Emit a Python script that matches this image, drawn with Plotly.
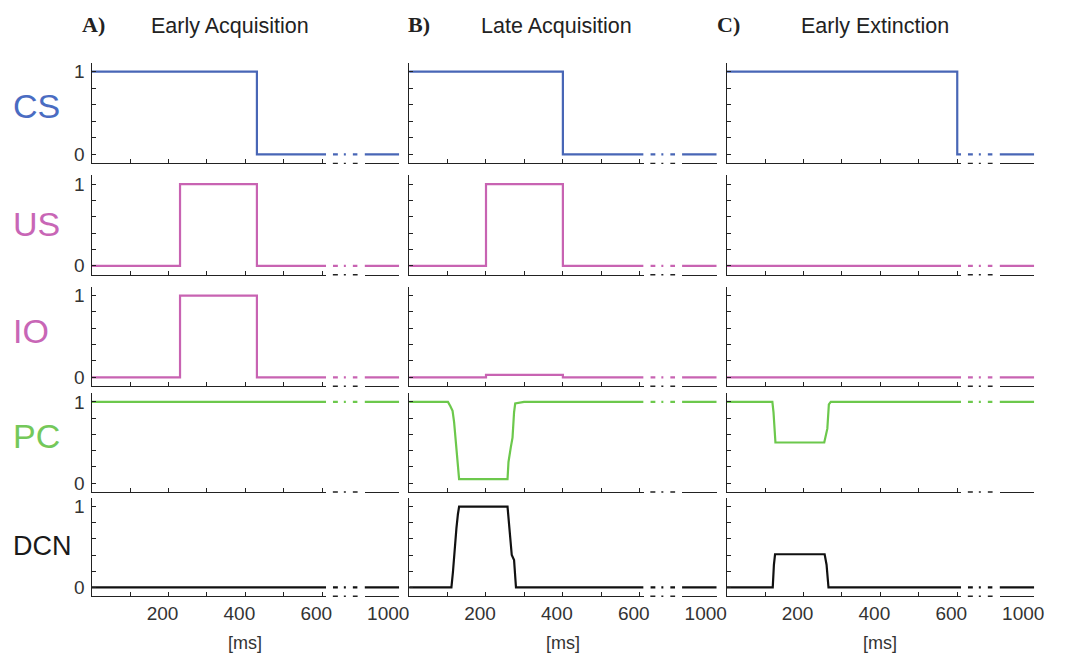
import numpy as np
import plotly.graph_objects as go

# ---------------- data: time (ms) and normalised activity ----------------
sessions = ["Early Acquisition", "Late Acquisition", "Early Extinction"]
session_tags = ["A)", "B)", "C)"]
signals = ["CS", "US", "IO", "PC", "DCN"]

cs_t = [[0, 430, 430, 1000], [0, 400, 400, 1000], [0, 600, 600, 1000]]
cs_v = [[1, 1, 0, 0], [1, 1, 0, 0], [1, 1, 0, 0]]

us_t = [[0, 230, 230, 430, 430, 1000], [0, 200, 200, 400, 400, 1000], [0, 1000]]
us_v = [[0, 0, 1, 1, 0, 0], [0, 0, 1, 1, 0, 0], [0, 0]]

io_t = [[0, 230, 230, 430, 430, 1000], [0, 200, 200, 400, 400, 1000], [0, 1000]]
io_v = [[0, 0, 1, 1, 0, 0], [0, 0, 0.03, 0.03, 0, 0], [0, 0]]

pc_t = [
    [0, 1000],
    [0, 101, 107, 113, 117, 123, 127, 130, 256, 258.5, 264.5, 269, 273, 276, 299, 1000],
    [0, 119, 122, 125, 127, 254, 258, 262, 266, 271, 1000],
]
pc_v = [
    [1, 1],
    [1, 1, 0.95, 0.89, 0.75, 0.42, 0.22, 0.05, 0.05, 0.26, 0.44, 0.56, 0.87, 0.98, 1, 1],
    [1, 1, 0.87, 0.62, 0.5, 0.5, 0.58, 0.67, 0.97, 1, 1],
]

dcn_t = [
    [0, 1000],
    [0, 110, 114, 119, 123, 127, 130, 256, 260, 267, 273, 278, 1000],
    [0, 120, 123, 126, 255, 260, 265, 1000],
]
dcn_v = [
    [0, 0],
    [0, 0, 0.19, 0.52, 0.73, 0.91, 1, 1, 0.77, 0.4, 0.34, 0, 0],
    [0, 0, 0.28, 0.41, 0.41, 0.28, 0, 0],
]

series_t = [cs_t, us_t, io_t, pc_t, dcn_t]
series_v = [cs_v, us_v, io_v, pc_v, dcn_v]

x_ticks_main = [0, 100, 200, 300, 400, 500, 600]
x_ticktext_main = ["", "", "200", "", "400", "", "600"]
x_ticks_tail = [1000]
x_ticktext_tail = ["1000"]
y_ticks = [0, 0.2, 0.4, 0.6, 0.8, 1.0]
y_ticktext = ["0", "", "", "", "", "1"]

# ---------------- styling / layout constants ----------------
W, H = 1067, 662
line_colors = ["#4866b6", "#c863b2", "#c863b2", "#6cc84c", "#111111"]
label_colors = ["#4a6cc2", "#c866b6", "#c866b6", "#74c85a", "#1a1a1a"]
label_sizes = [34, 34, 34, 34, 27]
label_y_px = [105, 224, 331, 437, 547]

row_px = [(71, 154), (184, 266), (296, 378), (402.7, 484.3), (508, 589)]  # pixel rows of value 1 and 0
col_left_px = [92.5, 413.0, 733.5]
title_x_px = [232, 562, 883]
tag_x_px = [94, 423, 735]
px_per_ms = 0.388
main_end = 610          # last time shown before the axis break
gap_range = [630, 890]  # break region
tail_range = [910, 1000]
Y_LO, Y_HI = -0.11, 1.11

AX = "#222222"
FONT = "Liberation Sans, Arial, sans-serif"
BREAK_DASH = "5px,6px,2px,7px,5px,60px"


def fx(px):
    return px / W


def fy(py):
    return 1 - py / H


def axname(kind, i):
    return f"{kind}axis" if i == 1 else f"{kind}axis{i}"


def axref(kind, i):
    return kind if i == 1 else f"{kind}{i}"


def segment(t, v, lo, hi):
    t = np.asarray(t, float)
    v = np.asarray(v, float)
    inside = (t > lo) & (t < hi)
    ts = np.concatenate([[lo], t[inside], [hi]])
    vs = np.concatenate([[np.interp(lo, t, v)], v[inside], [np.interp(hi, t, v)]])
    return ts, vs


fig = go.Figure()
layout = {}
shapes = []
annotations = []

for r, sig in enumerate(signals):
    y1px, y0px = row_px[r]
    span = y0px - y1px
    top_px = y1px - (Y_HI - 1) * span
    bot_px = y0px - Y_LO * span
    for c in range(3):
        p = r * 3 + c
        yi, xm, xg, xt = p + 1, p + 1, 16 + p, 31 + p
        L = col_left_px[c]
        bottom_row = r == len(signals) - 1

        layout[axname("y", yi)] = dict(
            domain=[fy(bot_px), fy(top_px)], range=[Y_LO, Y_HI], anchor=axref("x", xm),
            tickvals=y_ticks, ticktext=y_ticktext, showticklabels=(c == 0),
            ticks="inside", ticklen=4, tickwidth=1.2, tickcolor=AX,
            showline=True, linecolor=AX, linewidth=1.4, showgrid=False, zeroline=False,
            tickfont=dict(family=FONT, size=19, color="#333333"), ticklabelstandoff=2,
            fixedrange=True,
        )
        layout[axname("x", xm)] = dict(
            domain=[fx(L), fx(L + main_end * px_per_ms)], range=[0, main_end],
            anchor=axref("y", yi), tickvals=x_ticks_main, ticktext=x_ticktext_main,
            showticklabels=bottom_row, ticks="inside", ticklen=4, tickwidth=1.2,
            tickcolor=AX, showline=True, linecolor=AX, linewidth=1.4, showgrid=False,
            zeroline=False, tickfont=dict(family=FONT, size=19, color="#333333"),
            ticklabelshift=-6, fixedrange=True,
        )
        layout[axname("x", xg)] = dict(
            domain=[fx(L + 243.5), fx(L + 268.5)], range=gap_range,
            anchor=axref("y", yi), visible=False, fixedrange=True,
        )
        layout[axname("x", xt)] = dict(
            domain=[fx(L + 275.5), fx(L + 310.5)], range=tail_range,
            anchor=axref("y", yi), tickvals=x_ticks_tail, ticktext=x_ticktext_tail,
            showticklabels=bottom_row, ticks="inside", ticklen=4, tickwidth=1.2,
            tickcolor=AX, showline=True, linecolor=AX, linewidth=1.4, showgrid=False,
            zeroline=False, tickfont=dict(family=FONT, size=19, color="#333333"),
            ticklabelshift=-11, fixedrange=True,
        )

        t, v = series_t[r][c], series_v[r][c]
        line = dict(color=line_colors[r], width=2.2)
        ts, vs = segment(t, v, 0, main_end)
        fig.add_trace(go.Scatter(x=ts, y=vs, mode="lines", line=line,
                                 xaxis=axref("x", xm), yaxis=axref("y", yi),
                                 showlegend=False, hoverinfo="skip"))
        gs, gv = segment(t, v, gap_range[0], gap_range[1])
        fig.add_trace(go.Scatter(x=[gs[0], gs[-1]], y=[gv[0], gv[-1]], mode="lines",
                                 line=dict(color=line_colors[r], width=2.2, dash=BREAK_DASH),
                                 xaxis=axref("x", xg), yaxis=axref("y", yi),
                                 showlegend=False, hoverinfo="skip"))
        ts2, vs2 = segment(t, v, tail_range[0], tail_range[1])
        fig.add_trace(go.Scatter(x=ts2, y=vs2, mode="lines", line=line,
                                 xaxis=axref("x", xt), yaxis=axref("y", yi),
                                 showlegend=False, hoverinfo="skip"))

        # broken x-axis line across the gap
        shapes.append(dict(type="line", xref=f"{axref('x', xg)} domain",
                           yref=f"{axref('y', yi)} domain", x0=0, x1=1, y0=0, y1=0,
                           line=dict(color=AX, width=1.4, dash=BREAK_DASH)))

    annotations.append(dict(text=sig, x=fx(11), y=fy(label_y_px[r]), xref="paper",
                            yref="paper", xanchor="left", yanchor="middle", showarrow=False,
                            font=dict(family=FONT, size=label_sizes[r], color=label_colors[r])))

for c in range(3):
    L = col_left_px[c]
    annotations.append(dict(text=f"<b>{session_tags[c]}</b>", x=fx(tag_x_px[c]), y=fy(24),
                            xref="paper", yref="paper", xanchor="center", yanchor="middle",
                            showarrow=False,
                            font=dict(family="Liberation Serif, Times New Roman, serif",
                                      size=22, color="#222222")))
    annotations.append(dict(text=sessions[c], x=fx(title_x_px[c]), y=fy(25), xref="paper",
                            yref="paper", xanchor="center", yanchor="middle", showarrow=False,
                            font=dict(family=FONT, size=21.5, color="#222222")))
    annotations.append(dict(text="[ms]", x=fx(L + 155), y=fy(645), xref="paper",
                            yref="paper", xanchor="center", yanchor="middle", showarrow=False,
                            font=dict(family=FONT, size=18, color="#333333")))

fig.update_layout(
    width=W, height=H, margin=dict(l=0, r=0, t=0, b=0),
    paper_bgcolor="white", plot_bgcolor="white",
    shapes=shapes, annotations=annotations, showlegend=False,
    **layout,
)

fig.write_html("out.html")
